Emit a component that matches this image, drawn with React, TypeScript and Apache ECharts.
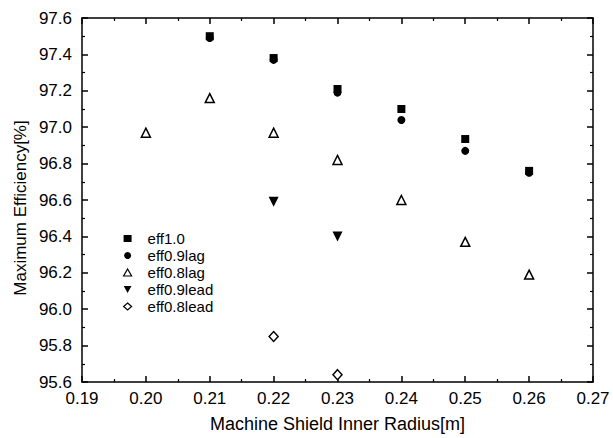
import React, { useEffect, useRef } from "react";
import * as echarts from "echarts";

const xEff10 = [0.21, 0.22, 0.23, 0.24, 0.25, 0.26];
const yEff10 = [97.5, 97.38, 97.21, 97.1, 96.935, 96.76];

const xEff09lag = [0.21, 0.22, 0.23, 0.24, 0.25, 0.26];
const yEff09lag = [97.49, 97.37, 97.19, 97.04, 96.87, 96.75];

const xEff08lag = [0.2, 0.21, 0.22, 0.23, 0.24, 0.25, 0.26];
const yEff08lag = [96.97, 97.16, 96.97, 96.82, 96.6, 96.37, 96.19];

const xEff09lead = [0.22, 0.23];
const yEff09lead = [96.59, 96.4];

const xEff08lead = [0.22, 0.23];
const yEff08lead = [95.85, 95.64];

const seriesNames = ["eff1.0", "eff0.9lag", "eff0.8lag", "eff0.9lead", "eff0.8lead"];

const xTitle = "Machine Shield Inner Radius[m]";
const yTitle = "Maximum Efficiency[%]";

const zip = (xs: number[], ys: number[]) => xs.map((x, i) => [x, ys[i]]);

const FONT = "'Liberation Sans', Arial, sans-serif";
const INK = "#000";

export default function App() {
  const ref = useRef<HTMLDivElement>(null);
  useEffect(() => {
    if (!ref.current) return;
    const chart = echarts.init(ref.current, null, { renderer: "svg" });
    const axisLine = { show: true, lineStyle: { color: INK, width: 1.5 } };
    const axisTick = { show: true, inside: true, length: 6, lineStyle: { color: INK, width: 1.5 } };
    const minorTick = { show: true, splitNumber: 2, length: 3, lineStyle: { color: INK, width: 1.2 } };
    const baseX = {
      type: "value",
      min: 0.19,
      max: 0.27,
      interval: 0.01,
      axisLine,
      axisTick,
      minorTick,
      splitLine: { show: false },
    };
    const baseY = {
      type: "value",
      min: 95.6,
      max: 97.6,
      interval: 0.2,
      axisLine,
      axisTick,
      minorTick,
      splitLine: { show: false },
    };
    const hollow = { color: "#fff", borderColor: INK, borderWidth: 1.2, opacity: 1 };
    const solid = { color: INK, opacity: 1 };
    chart.setOption({
      animation: false,
      backgroundColor: "#fff",
      textStyle: { fontFamily: FONT },
      grid: { left: 82, right: 20, top: 18, bottom: 56, containLabel: false },
      xAxis: [
        {
          ...baseX,
          position: "bottom",
          name: xTitle,
          nameLocation: "middle",
          nameGap: 33,
          nameTextStyle: { fontSize: 18, color: INK, fontFamily: FONT },
          axisLabel: {
            fontSize: 17,
            color: INK,
            fontFamily: FONT,
            margin: 8,
            formatter: (v: number) => v.toFixed(2),
          },
        },
        {
          ...baseX,
          position: "top",
          axisLabel: { show: false },
        },
      ],
      yAxis: [
        {
          ...baseY,
          position: "left",
          axisLabel: {
            fontSize: 17,
            color: INK,
            fontFamily: FONT,
            margin: 10,
            formatter: (v: number) => v.toFixed(1),
          },
        },
        {
          ...baseY,
          position: "right",
          axisLabel: { show: false },
        },
      ],
      legend: {
        orient: "vertical",
        left: 118,
        top: 226,
        itemWidth: 8,
        itemHeight: 7,
        itemGap: 2,
        textStyle: { fontSize: 15, color: INK, fontFamily: FONT, padding: [0, 0, 0, 11] },
        data: [
          { name: seriesNames[0], icon: "rect", itemStyle: solid },
          { name: seriesNames[1], icon: "circle", itemStyle: solid },
          { name: seriesNames[2], icon: "triangle", itemStyle: hollow },
          { name: seriesNames[3], icon: "path://M0,0L10,0L5,9Z", itemStyle: solid },
          { name: seriesNames[4], icon: "diamond", itemStyle: hollow },
        ],
      },
      graphic: [
        {
          type: "text",
          x: 20,
          y: 208,
          rotation: Math.PI / 2,
          style: {
            text: yTitle,
            fontSize: 17,
            fontFamily: FONT,
            fill: INK,
            align: "center",
            verticalAlign: "middle",
          },
        },
      ],
      series: [
        {
          name: seriesNames[0],
          type: "scatter",
          symbol: "rect",
          symbolSize: 8,
          itemStyle: solid,
          data: zip(xEff10, yEff10),
        },
        {
          name: seriesNames[1],
          type: "scatter",
          symbol: "circle",
          symbolSize: 8,
          itemStyle: solid,
          data: zip(xEff09lag, yEff09lag),
        },
        {
          name: seriesNames[2],
          type: "scatter",
          symbol: "triangle",
          symbolSize: 9,
          itemStyle: { ...hollow, borderWidth: 1.5 },
          data: zip(xEff08lag, yEff08lag),
        },
        {
          name: seriesNames[3],
          type: "scatter",
          symbol: "triangle",
          symbolRotate: 180,
          symbolSize: 10,
          itemStyle: solid,
          data: zip(xEff09lead, yEff09lead),
        },
        {
          name: seriesNames[4],
          type: "scatter",
          symbol: "diamond",
          symbolSize: [9, 10],
          itemStyle: { ...hollow, borderWidth: 1.5 },
          data: zip(xEff08lead, yEff08lead),
        },
      ],
    });
    return () => chart.dispose();
  }, []);
  return (
    <div
      ref={ref}
      style={{ position: "fixed", left: 0, top: 0, width: 613, height: 438, background: "#fff" }}
    />
  );
}
